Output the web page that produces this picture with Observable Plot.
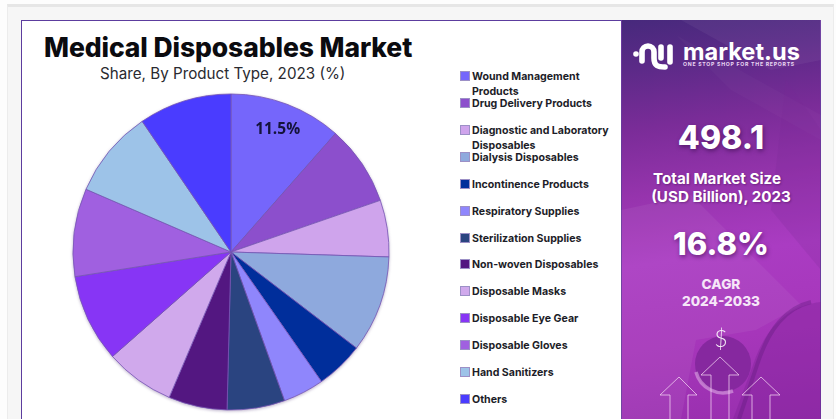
<!DOCTYPE html>
<html><head><meta charset="utf-8">
<script src="https://cdn.jsdelivr.net/npm/d3@7"></script>
<script src="https://cdn.jsdelivr.net/npm/@observablehq/plot@0.6"></script>
<style>
html,body{margin:0;padding:0;background:#fff}
#page{position:relative;width:836px;height:419px;overflow:hidden;background:#fdfdfd;font-family:Inter,"Open Sans",sans-serif}
#page .t{position:absolute;white-space:nowrap}
#band{position:absolute;left:7px;top:4px;width:827px;height:430px;box-sizing:border-box;border-top:3px solid #e6e6e6;border-left:1px solid #ececec;border-right:1px solid #ececec;background:#f6f6f6}
#card{position:absolute;left:21px;top:20px;width:800px;height:420px;box-sizing:border-box;background:#fff;border:1px solid #5c3d9e}
#panel{position:absolute;left:621px;top:20px;width:200px;height:399px;overflow:hidden;background:linear-gradient(172deg,#47297c 0%,#5c2a88 12%,#7a2c98 26%,#9634ad 42%,#aa3cc2 58%,#a636ba 78%,#982fae 100%);box-shadow:inset 1px 0 0 #6a3a9e,inset -1px 0 0 #6a3a9e}
#chart{position:absolute;left:0;top:0}
#chart svg{overflow:visible;background:transparent;filter:drop-shadow(0 1px 1.5px rgba(70,40,110,.35))}
.ctr{text-align:center;left:621px;width:200px;color:#fff;font-weight:700}
.big{font-weight:800;text-shadow:1px 2px 4px rgba(50,10,70,.55);line-height:1}
.lg{position:absolute;left:472px;font-size:10.6px;font-weight:650;color:#1d1d28;line-height:15px;white-space:pre}
.sw{position:absolute;left:461px;width:8px;height:8px;outline:.5px solid rgba(90,70,160,.6)}
</style></head><body>
<div id="page">
<div id="band"></div><div id="card"></div>
<div id="panel">
<svg width="200" height="399" style="position:absolute;left:0;top:0">
<polygon points="60,0 200,0 200,40 150,50" fill="#fff" opacity=".05"/>
<polygon points="55,15 200,95 200,120 110,70" fill="#fff" opacity=".025"/>
<polygon points="0,190 70,175 180,285 135,310 75,320 60,399 0,399" fill="#fff" opacity=".055"/>
<polygon points="165,60 200,110 200,250 150,190" fill="#7a2a98" opacity=".2"/>
<path d="M200 282 C170 285 145 305 132 345 L112 399 L200 399Z" fill="#7a2096" opacity=".35"/>
<path d="M190 282 C165 288 148 308 136 345 L118 399" fill="none" stroke="#5e1a7c" stroke-width="4" opacity=".35"/>
<circle cx="102" cy="344" r="28" fill="#86289f"/>
<path d="M75 352 A28 28 0 0 0 112 371" fill="none" stroke="#dca6e2" stroke-width="3.5" opacity=".6"/>
<g fill="none" stroke="#f3d3f2" stroke-opacity=".75" stroke-width="1">
<path d="M49 399V375H39L58 357L76 375H67V399"/>
<path d="M90 399V355H80L99 337L118 355H108V399"/>
<path d="M131 399V375H121L140 357L159 375H149V399"/>
</g>
<g fill="none" stroke="#fff" stroke-width="5.6" stroke-linecap="round">
<path d="M21 41V32A6 6 0 0 1 33 32V38C33 46 37 47 44 47"/>
<path d="M40 38V27"/><path d="M49 42V27"/>
</g>
<circle cx="15" cy="34" r="2.8" fill="#fff"/>
</svg>
</div>
<div id="chart"></div>
<div class="t" id="title" style="left:44px;top:31px;font-size:26.5px;font-weight:800;color:#0b0b0f;letter-spacing:-.1px;line-height:32px">Medical Disposables Market</div>
<div class="t" style="left:100px;top:64px;font-size:15.2px;color:#2a2a30;line-height:20px">Share, By Product Type, 2023 (%)</div>
<div id="legend"></div>
<div class="t" style="left:683px;top:43px;font-size:23.6px;font-weight:700;color:#fff;line-height:18px">market.us</div>
<div class="t" style="left:683px;top:62px;font-size:5.2px;font-weight:700;letter-spacing:.72px;color:#e9d6f2;line-height:5px">ONE STOP SHOP FOR THE REPORTS</div>
<div class="t ctr big" style="top:122px;font-size:32px">498.1</div>
<div class="t ctr" style="top:170px;font-size:15.2px;line-height:18px;text-shadow:1px 1px 2px rgba(50,10,70,.4)"><span style="position:relative;left:-4px">Total Market Size</span><br>(USD Billion), 2023</div>
<div class="t ctr big" style="top:228px;font-size:31px">16.8%</div>
<div class="t ctr" style="top:276px;font-size:13.6px;font-weight:800;line-height:17px;color:#f6e6f8">CAGR<br>2024-2033</div>
<div class="t ctr" style="top:323px;font-size:23px;font-family:Lato,sans-serif;font-weight:300;line-height:30px;opacity:.9">$</div>
</div>
<script>
const names = ["Wound Management Products","Drug Delivery Products","Diagnostic and Laboratory Disposables","Dialysis Disposables","Incontinence Products","Respiratory Supplies","Sterilization Supplies","Non-woven Disposables","Disposable Masks","Disposable Eye Gear","Disposable Gloves","Hand Sanitizers","Others"];
const legendLines = ["Wound Management\nProducts","Drug Delivery Products","Diagnostic and Laboratory\nDisposables","Dialysis Disposables","Incontinence Products","Respiratory Supplies","Sterilization Supplies","Non-woven Disposables","Disposable Masks","Disposable Eye Gear","Disposable Gloves","Hand Sanitizers","Others"];
const shares = [11.5,8.2,5.8,9.9,4.9,4.2,5.9,6.0,7.1,9.0,9.0,9.0,9.5];
const colors = ["#7566fb","#8c4fcc","#cfa4ec","#8ea9dd","#002e9b","#8f86fc","#2a4480","#531781","#d0a9ec","#8735f5","#a060e0","#9dc3e8","#4a3cff"];
const sliceLabels = ["11.5%","","","","","","","","","","","",""];
const rows = names.map((name,i)=>({name,share:shares[i],label:sliceLabels[i]}));

function pie(index, scales, values, dim){
  const r=(dim.width-dim.marginLeft-dim.marginRight)/2;
  const cx=dim.marginLeft+r, cy=dim.marginTop+(dim.height-dim.marginTop-dim.marginBottom)/2;
  const g=d3.create("svg:g").attr("transform",`translate(${cx},${cy})`);
  const arc=d3.arc().innerRadius(0).outerRadius(r);
  for(const i of index){
    g.append("path")
      .attr("d",arc({startAngle:values.x1[i],endAngle:values.x2[i]}))
      .attr("fill",values.fill[i]).attr("stroke","#7656b4").attr("stroke-width",.8);
  }
  for(const i of index){
    if(!rows[i].label) continue;
    const a=(values.x1[i]+values.x2[i])/2, d=r*.835;
    g.append("text").attr("x",d*Math.sin(a)).attr("y",-d*Math.cos(a)).attr("dy","0.35em")
      .attr("text-anchor","middle").attr("font-family","'Open Sans',sans-serif")
      .attr("font-weight",700).attr("font-size",15.5).attr("fill","#14133a").text(rows[i].label);
  }
  return g.node();
}
const chart=Plot.plot({
  width:836,height:419,marginLeft:73,marginRight:447,marginTop:94,marginBottom:9,
  x:{domain:[0,100],range:[0,2*Math.PI],axis:null},
  color:{domain:names,range:colors},
  marks:[Plot.barX(rows,Plot.stackX({x:"share",fill:"name",render:pie}))]
});
document.getElementById("chart").append(chart);

const tops=[76,103,130,157,184,211,238,264,291,318,345,372,399];
const lg=document.getElementById("legend");
legendLines.forEach((t,i)=>{
  const s=document.createElement("div");s.className="sw";s.style.top=(tops[i]-4)+"px";s.style.background=colors[i];lg.append(s);
  const d=document.createElement("div");d.className="lg";d.style.top=(tops[i]-7.5)+"px";d.textContent=t;lg.append(d);
});
</script>
</body></html>
